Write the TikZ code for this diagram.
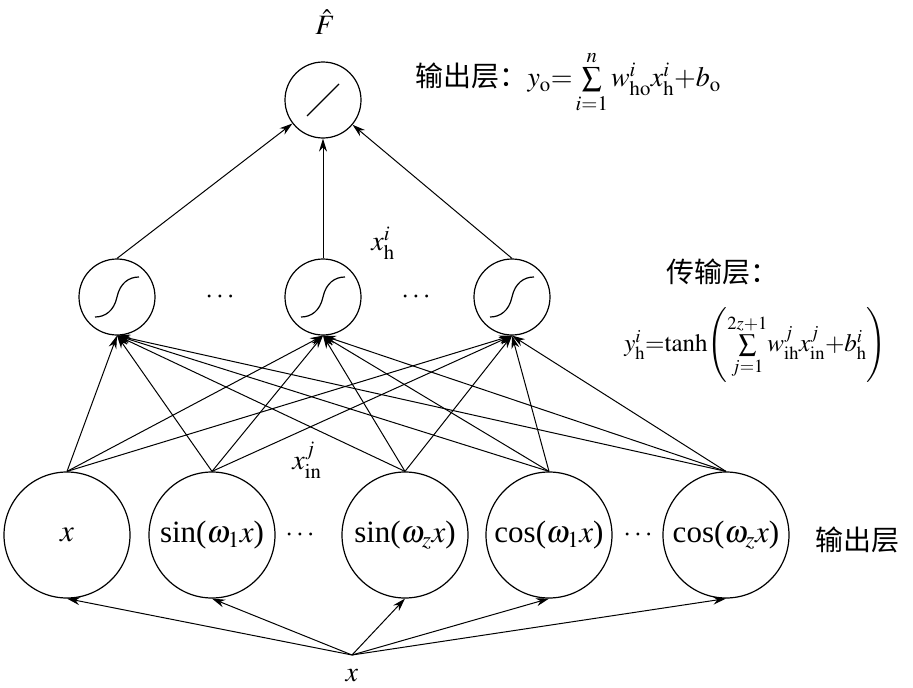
\documentclass[tikz,border=0pt]{standalone}
\usepackage{mathptmx}
\usepackage{fontspec}
\setmainfont{Liberation Serif}
\newfontfamily\cjk{Noto Sans CJK SC}
\usetikzlibrary{arrows.meta}
\begin{document}
\begin{tikzpicture}[x=1pt,y=-1pt,
  every node/.style={font=\fontsize{28}{30}\selectfont},
  lab/.style={font=\fontsize{31}{33}\selectfont},
  big/.style={circle,draw,line width=1.2pt,minimum size=126pt,inner sep=0pt},
  hid/.style={circle,draw,line width=1.2pt,minimum size=76pt,inner sep=0pt},
  arr/.style={line width=1pt,-{Stealth[length=13pt,width=8pt]}}]
\useasboundingbox (0,0) rectangle (913,688);
\node[big,lab] (b1) at (67,535) {$x$};
\node[big,lab] (b2) at (212,535) {sin($\omega_1x$)};
\node[big,lab] (b3) at (405,535) {sin($\omega_zx$)};
\node[big,lab] (b4) at (549,535) {cos($\omega_1x$)};
\node[big,lab] (b5) at (726,535) {cos($\omega_zx$)};
\node (d1) at (300,535) {$\cdots$};
\node (d2) at (638,535) {$\cdots$};
\node[hid] (h1) at (117,297) {};
\node[hid] (h2) at (323,297) {};
\node[hid] (h3) at (512,297) {};
\node (d3) at (220,297) {$\cdots$};
\node (d4) at (416,297) {$\cdots$};
\node[hid] (o) at (323,100) {};
\draw[line width=1.2pt] (o.center)+(-16,16) -- +(16,-16);
\foreach \h in {h1,h2,h3}{
  \draw[line width=1.2pt] (\h.center)+(-22,20) .. controls +(10,0) and +(-3,14) .. +(0,0) .. controls +(3,-14) and +(-10,0) .. +(22,-20);
  \draw[arr] (\h.north) -- (o);
}
\foreach \b in {b1,b2,b3,b4,b5}{
  \foreach \h in {h1,h2,h3}{\draw[arr] (\b.north) -- (\h.south);}
}
\coordinate (src) at (352,655);
\foreach \b in {b1,b2,b3,b4,b5}{\draw[arr] (src) -- (\b.south);}
\node (xs) at (352,676) {$x$};
\node (fh) at (325,22) {$\hat F$};
\node (xh) at (383,243) {$x_{\mathrm h}^i$};
\node (xin) at (307,460) {$x_{\mathrm{in}}^j$};
\node[anchor=west] (t1) at (412,82) {{\cjk 输出层：}$y_{\mathrm o}{=}\sum\limits_{i=1}^{n}w_{\mathrm{ho}}^ix_{\mathrm h}^i{+}b_{\mathrm o}$};
\node (t2) at (722,272) {\cjk 传输层：};
\node[anchor=east,font=\fontsize{25}{27}\selectfont] (t3) at (890,345) {$y_{\mathrm h}^i{=}\mathrm{tanh}\!\left(\sum\limits_{j=1}^{2z+1}\!w_{\mathrm{ih}}^jx_{\mathrm{in}}^j{+}b_{\mathrm h}^i\right)$};
\node (t4) at (857,540) {\cjk 输出层};
\end{tikzpicture}
\end{document}
